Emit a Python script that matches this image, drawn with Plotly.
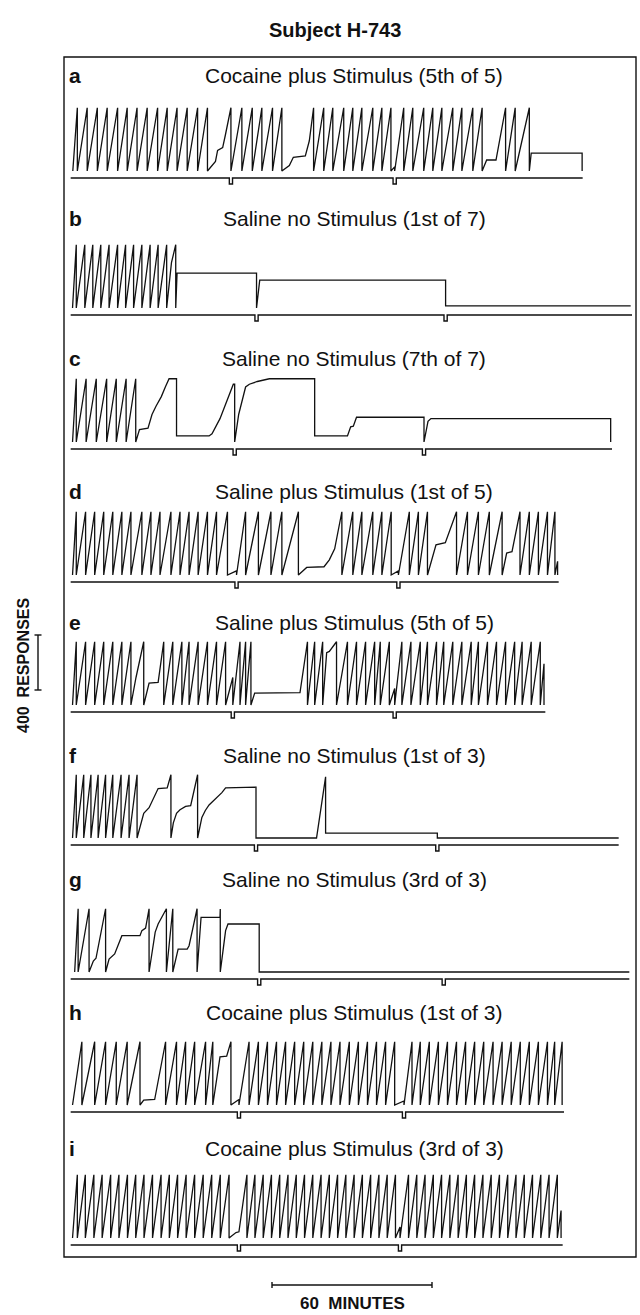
import plotly.graph_objects as go

# ---------------------------------------------------------------------------
# Cumulative records, subject H-743.
# Each record is a list of pen events in (minutes, responses):
#   a bare number t  -> pen reached the reset level at t and returned to 0
#   a tuple (t, r)   -> pen position r responses at time t
# ---------------------------------------------------------------------------
PEN_RESET = 460  # responses per full pen excursion

LETTERS = ["a", "b", "c", "d", "e", "f", "g", "h", "i"]
TITLES = [
    "Cocaine plus Stimulus (5th of 5)",
    "Saline no Stimulus (1st of 7)",
    "Saline no Stimulus (7th of 7)",
    "Saline plus Stimulus (1st of 5)",
    "Saline plus Stimulus (5th of 5)",
    "Saline no Stimulus (1st of 3)",
    "Saline no Stimulus (3rd of 3)",
    "Cocaine plus Stimulus (1st of 3)",
    "Cocaine plus Stimulus (3rd of 3)",
]

REC_A = [(0.3, 0), 2.0, 5.7, 9.5, 13.2, 17.1, 20.7, 24.4, 28.2, 32.1, 35.7, 39.4, 43.2, 47.1, 50.8,
         (53.8, 70), (54.6, 150), (56.5, 170), (57.5, 260), 59.6,
         63.7, 67.6, 71.2, 75.2, 78.7,
         (81.5, 40), (83.0, 100), (87.5, 110), (89.0, 220), 90.6,
         94.4, 97.8, 101.9, 105.3, 108.7, 112.8, 116.2, 119.6, (121.0, 30), (121.0, 0),
         124.4, 127.8, 131.9, 135.3, 138.7, 142.8, 146.2, 150.3, 153.8,
         (155.5, 80), (159.0, 80), 162.6, 166.2, 171.5,
         (172.2, 130), (191.3, 130), (191.3, 0)]

REC_B = [(0.2, 0), 1.6, 4.8, 7.8, 10.8, 13.9, 17.1, 20.1, 23.1, 26.2, 29.3, 32.3, 35.5,
         (37.3, 330), 38.9, (39.4, 254), (69.2, 254), (69.2, 0), (70.4, 203), (140.1, 203),
         (140.1, 15), (209.5, 15)]

REC_C = [(0.2, 0), 1.6, 5.3, 9.1, 13.0, 16.6, 20.3, 23.9,
         (25.3, 90), (28.5, 100), (30.0, 200), (31.5, 260), (33.5, 330), (35.0, 400), (36.4, 460),
         (39.2, 460), (39.2, 44), (51.4, 44), (52.5, 60), (55.5, 170), (58.0, 300), (60.5, 420),
         (61.0, 420), (61.0, 0), (62.5, 200), (65.1, 400), (66.5, 420), (69.5, 440), (74.0, 460),
         (91.0, 460), (91.0, 44), (103.3, 44), (104.5, 110), (105.5, 115), (106.7, 180),
         (132.0, 180), (132.0, 0), (133.5, 150), (134.6, 170), (202.0, 170), (202.0, 0)]

REC_D = [(0.2, 0), 1.6, 5.1, 8.5, 11.9, 15.3, 18.7, 22.1, 26.2, 29.6, 33.0, 37.1, 40.5, 43.9, 47.3,
         50.8, 54.2, 58.3, (61.7, 30), (61.7, 0), 65.1, 69.9, 74.6, 78.7, 84.9,
         (86.5, 30), (88.0, 55), (94.5, 60), (96.5, 110), (98.5, 190), 101.2,
         105.3, 108.7, 112.8, 116.2, 119.7, (122.4, 30), (122.4, 0),
         126.5, 129.9, 133.3, (136.5, 220), (140.0, 235), 144.2, 148.3, 152.4, 156.5, 161.3,
         (163.0, 160), (165.0, 170), 168.0, 171.5, 174.9, 178.3, 181.1, (182.1, 100), (182.1, 0)]

REC_E = [(0.2, 0), 1.6, 5.1, 8.5, 11.9, 15.3, 18.7, 22.1, (24.0, 200), 26.9, (28.9, 160),
         (32.3, 165), 34.4, 37.8, 41.2, 43.9, 47.3, 50.8, 54.2, 57.6, (60.3, 200), (60.3, 0),
         63.0, 65.1, 67.1, (68.5, 87), (85.5, 90), 88.3, 91.0, 94.0, (95.5, 380), (96.5, 390),
         99.2, 103.3, 106.7, 110.1, 113.5, 115.6, 119.0, (121.0, 120), (121.0, 0),
         123.7, 127.1, 130.6, 133.3, 136.7, 139.4, 142.8, 146.2, 149.7, 152.4, 155.8, 159.2,
         162.6, 166.0, 168.8, 172.2, 175.6, (177.0, 300), (177.0, 0)]

REC_F = [(0.2, 0), 1.6, 4.4, 7.1, 9.8, 12.6, 15.3, 18.4, 21.4, 24.4,
         (26.9, 180), (28.9, 220), (31.0, 300), (32.3, 360), (35.7, 365), 37.1,
         (38.0, 110), (39.2, 180), (40.5, 205), (42.6, 230), (44.5, 235), 47.1,
         (48.7, 150), (50.0, 200), (51.4, 240), (53.0, 270), (54.8, 310), (56.2, 330),
         (57.6, 365), (69.0, 370), (69.0, 0), (91.7, 0), (95.1, 445), (95.1, 36),
         (137.0, 36), (137.0, 0), (205.0, 0)]

REC_G = [(1.0, 0), 2.3, 6.4, (8.0, 80), (9.0, 100), 12.6,
         (13.9, 94), (16.0, 131), (17.3, 191), (18.7, 264), (25.5, 264), (26.2, 301), (27.6, 320), 28.9,
         (30.3, 191), (31.2, 290), (32.3, 349), 35.4, 37.8,
         (38.9, 82), (39.8, 167), (43.2, 167), (43.9, 191), 46.9,
         (48.4, 398), (55.5, 398), (55.6, 458), (55.6, 0),
         (56.6, 150), (57.6, 301), (58.5, 349), (70.2, 349), (70.2, 0), (209.0, 0)]

REC_H = [(0.2, 0), 3.7, 8.5, 12.6, 16.6, 20.7, 25.5, (26.9, 36), (31.0, 40), (33.0, 250), 35.1,
         39.2, 42.6, 46.0, 50.1, 52.8, (55.5, 350), (58.0, 355), 59.6, (62.6, 40), (62.6, 0),
         66.4, 69.9, 73.3, 76.7, 80.1, 83.5, 86.9, 90.3, 93.7, 97.1, 100.5, 104.0, 107.4, 110.8,
         114.2, 117.6, 121.0, (124.5, 30), (124.5, 0),
         127.5, 130.6, 134.0, 137.4, 140.8, 144.2, 147.6, 151.0, 154.4, 157.9, 161.3, 164.7,
         168.1, 171.5, 174.9, 178.3, 181.0, 183.8]

REC_I = [(0.2, 0), 2.0, 5.0, 8.2, 11.3, 14.5, 17.6, 20.8, 23.9, 27.0, 30.2, 33.4, 36.5, 39.6,
         42.8, 46.0, 49.2, 52.4, 55.6, 58.9, (61.5, 40), (62.6, 45),
         65.6, 68.6, 71.7, 74.8, 77.9, 81.0, 84.1, 87.2, 90.3, 93.4, 96.5, 99.6, 102.7, 105.8,
         108.9, 112.0, 115.1, 118.2, 121.3, (123.0, 80), (123.0, 0),
         126.2, 129.3, 132.4, 135.5, 138.6, 141.7, 144.8, 147.9, 151.0, 154.1, 157.2, 160.3,
         163.4, 166.5, 169.6, 172.7, 175.8, 178.9, 182.0, (183.4, 200), (183.4, 0)]

RECORDS = [REC_A, REC_B, REC_C, REC_D, REC_E, REC_F, REC_G, REC_H, REC_I]

# event-pen marks (minutes) and end of each event line
EVENT_MARKS = [[59.6, 121.0], [69.2, 140.1], [61.0, 132.0], [61.7, 122.4], [60.3, 121.0],
               [69.0, 137.0], [70.2, 139.4], [62.6, 124.5], [62.6, 123.0]]
SESSION_END = [191.5, 210.0, 202.5, 182.5, 177.5, 205.0, 209.0, 184.5, 184.0]

SCALE_RESPONSES = 400
SCALE_MINUTES = 60

# ---------------------------------------------------------------------------
# page geometry (pixels)
# ---------------------------------------------------------------------------
W, H = 640, 1315
BOX_L, BOX_R, BOX_T, BOX_B = 64, 636, 57, 1257
PX_PER_MIN = 160 / 60
RESP_PER_PX = 400 / 55
T0_PX = 72                      # x of session start
BASE_PX = [178, 315, 449, 582, 712, 845, 979, 1112, 1245]   # event-line y per panel
LABEL_PX = [75, 218, 358, 492, 622, 755, 880, 1012, 1148]
ZERO_ABOVE_BASE = 7             # pen zero sits this many px above the event line
NOTCH_DEPTH = 6
NOTCH_HALF = 0.6                # minutes
FONT = "Liberation Sans, Arial, Helvetica, sans-serif"
INK = "#111111"


def expand(rec):
    ts, rs = [], []
    for item in rec:
        if isinstance(item, tuple):
            ts.append(item[0])
            rs.append(item[1])
        else:
            ts += [item, item]
            rs += [PEN_RESET, 0]
    return ts, rs


def event_line(marks, end):
    lvl = -ZERO_ABOVE_BASE * RESP_PER_PX
    dep = lvl - NOTCH_DEPTH * RESP_PER_PX
    ts, rs = [-0.5], [lvl]
    for m in marks:
        ts += [m - NOTCH_HALF, m - NOTCH_HALF, m + NOTCH_HALF, m + NOTCH_HALF]
        rs += [lvl, dep, dep, lvl]
    ts.append(end)
    rs.append(lvl)
    return ts, rs


fig = go.Figure()
layout = dict(width=W, height=H, margin=dict(l=0, r=0, t=0, b=0),
              paper_bgcolor="white", plot_bgcolor="rgba(0,0,0,0)", showlegend=False)

x_range = [(BOX_L - T0_PX) / PX_PER_MIN, (BOX_R - T0_PX) / PX_PER_MIN]
annotations = []
for k, (rec, marks, end) in enumerate(zip(RECORDS, EVENT_MARKS, SESSION_END)):
    n = k + 1
    b = BASE_PX[k]
    top_px, bot_px = b - 90, b + 14
    zero_px = b - ZERO_ABOVE_BASE
    layout[f"xaxis{n}"] = dict(domain=[BOX_L / W, BOX_R / W], range=x_range, visible=False,
                               fixedrange=True, anchor=f"y{n}")
    layout[f"yaxis{n}"] = dict(domain=[1 - bot_px / H, 1 - top_px / H],
                               range=[-(bot_px - zero_px) * RESP_PER_PX, (zero_px - top_px) * RESP_PER_PX],
                               visible=False, fixedrange=True, anchor=f"x{n}")
    ts, rs = expand(rec)
    fig.add_trace(go.Scatter(x=ts, y=rs, mode="lines", xaxis=f"x{n}", yaxis=f"y{n}",
                             line=dict(color=INK, width=1.3), hoverinfo="skip"))
    ets, ers = event_line(marks, end)
    fig.add_trace(go.Scatter(x=ets, y=ers, mode="lines", xaxis=f"x{n}", yaxis=f"y{n}",
                             line=dict(color=INK, width=1.4), hoverinfo="skip"))
    annotations.append(dict(x=67 / W, y=1 - LABEL_PX[k] / H, xref="paper", yref="paper",
                            text=f"<b>{LETTERS[k]}</b>", showarrow=False, xanchor="left",
                            yanchor="middle", font=dict(family=FONT, size=21, color=INK)))
    annotations.append(dict(x=354 / W, y=1 - LABEL_PX[k] / H, xref="paper", yref="paper",
                            text=TITLES[k], showarrow=False, xanchor="center",
                            yanchor="middle", font=dict(family=FONT, size=21, color=INK)))

# full-page axes for the calibration bars
layout["xaxis10"] = dict(domain=[0, 1], range=[-T0_PX / PX_PER_MIN, (W - T0_PX) / PX_PER_MIN],
                         visible=False, fixedrange=True, anchor="y10")
layout["yaxis10"] = dict(domain=[0, 1], range=[0, H * RESP_PER_PX], visible=False,
                         fixedrange=True, anchor="x10")


def page_y(px):
    return (H - px) * RESP_PER_PX


def page_t(px):
    return (px - T0_PX) / PX_PER_MIN


# 400 responses bar
vx = page_t(38)
v0 = page_y(690)
serif = 3.5 / PX_PER_MIN
fig.add_trace(go.Scatter(
    x=[vx - serif, vx + serif, None, vx, vx, None, vx - serif, vx + serif],
    y=[v0, v0, None, v0, v0 + SCALE_RESPONSES, None, v0 + SCALE_RESPONSES, v0 + SCALE_RESPONSES],
    mode="lines", xaxis="x10", yaxis="y10", line=dict(color=INK, width=1.4), hoverinfo="skip"))

# 60 minutes bar
h0 = page_t(272)
hy = page_y(1285)
tick = 3 * RESP_PER_PX
fig.add_trace(go.Scatter(
    x=[h0, h0, None, h0, h0 + SCALE_MINUTES, None, h0 + SCALE_MINUTES, h0 + SCALE_MINUTES],
    y=[hy - tick, hy + tick, None, hy, hy, None, hy - tick, hy + tick],
    mode="lines", xaxis="x10", yaxis="y10", line=dict(color=INK, width=1.4), hoverinfo="skip"))

annotations.append(dict(x=23 / W, y=1 - 665 / H, xref="paper", yref="paper",
                        text=f"<b>{SCALE_RESPONSES}  RESPONSES</b>", textangle=-90, showarrow=False,
                        xanchor="center", yanchor="middle", font=dict(family=FONT, size=16, color=INK)))
annotations.append(dict(x=352 / W, y=1 - 1303 / H, xref="paper", yref="paper",
                        text=f"<b>{SCALE_MINUTES}  MINUTES</b>", showarrow=False,
                        xanchor="center", yanchor="middle", font=dict(family=FONT, size=17, color=INK)))
annotations.append(dict(x=335 / W, y=1 - 30 / H, xref="paper", yref="paper",
                        text="<b>Subject H-743</b>", showarrow=False,
                        xanchor="center", yanchor="middle", font=dict(family=FONT, size=20, color=INK)))

layout["annotations"] = annotations
layout["shapes"] = [dict(type="rect", xref="paper", yref="paper",
                         x0=BOX_L / W, x1=BOX_R / W, y0=1 - BOX_B / H, y1=1 - BOX_T / H,
                         line=dict(color=INK, width=1.4))]
fig.update_layout(**layout)
fig.write_html("out.html")
